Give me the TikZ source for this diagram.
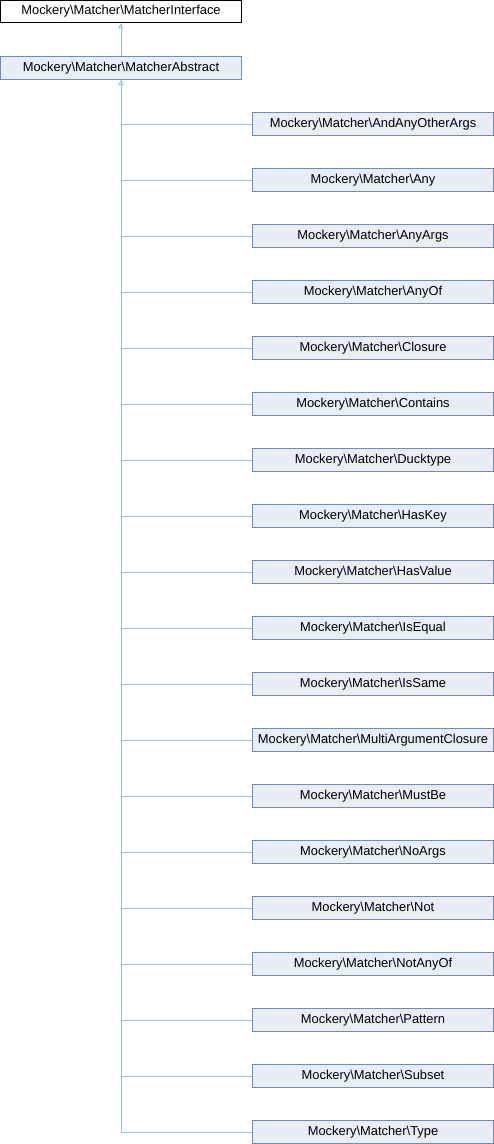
\documentclass[tikz,border=0pt]{standalone}
\usepackage{fontspec}
\setmainfont{Liberation Sans}
\usetikzlibrary{arrows.meta}
\definecolor{boxfill}{HTML}{E8ECF5}
\definecolor{boxdraw}{HTML}{6C8EBF}
\definecolor{edgecol}{HTML}{8FC6E6}
\tikzset{
  cls/.style={draw=boxdraw, fill=boxfill, line width=1pt, minimum width=241pt, minimum height=22.5pt, inner sep=0pt, font=\fontsize{12.9}{14}\selectfont},
  iface/.style={cls, draw=black, fill=white},
  edge/.style={draw=edgecol, line width=1pt},
  inh/.style={edge, {Triangle[open, length=5pt, width=5pt]}-}
}
\begin{document}
\begin{tikzpicture}[x=1pt,y=-1pt]
\useasboundingbox (0,0) rectangle (494,1144);
\node[iface] (mi) at (121,11.5) {Mockery\textbackslash Matcher\textbackslash MatcherInterface};
\node[cls] (ma) at (121,68) {Mockery\textbackslash Matcher\textbackslash MatcherAbstract};
\draw[inh] (mi.south) -- (ma.north);
\foreach \name [count=\i from 0] in {AndAnyOtherArgs,Any,AnyArgs,AnyOf,Closure,Contains,Ducktype,HasKey,HasValue,IsEqual,IsSame,MultiArgumentClosure,MustBe,NoArgs,Not,NotAnyOf,Pattern,Subset,Type}{
  \node[cls] (c\i) at (373,124+56*\i) {Mockery\textbackslash Matcher\textbackslash \name};
  \draw[edge] (c\i.west) -- (ma.south |- c\i.west);
}
\draw[inh] (ma.south) -- (ma.south |- c18.west);
\end{tikzpicture}
\end{document}
